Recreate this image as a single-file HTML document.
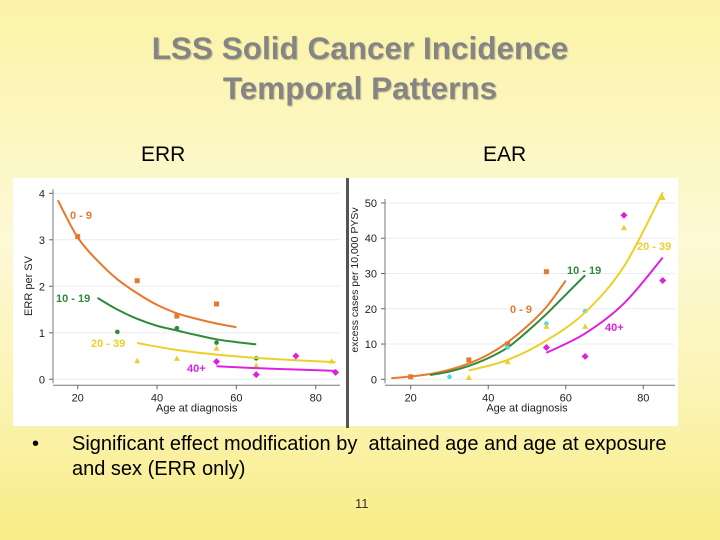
<!DOCTYPE html>
<html><head><meta charset="utf-8"><style>
body{margin:0;width:720px;height:540px;overflow:hidden;font-family:"Liberation Sans",sans-serif;
background:linear-gradient(180deg,#fbf3a6 0%,#fdf9d6 45%,#fbf3b0 75%,#f8ec86 100%);position:relative}
.t{position:absolute;left:0;width:720px;text-align:center;font-weight:bold;font-size:31.5px;color:#858585;text-shadow:1px 1px 1px #c8c090}
.lab{position:absolute;font-size:21px;color:#000}
.bul{position:absolute;left:32px;top:432px;font-size:20px;line-height:25px;color:#000}
</style></head><body>
<div class="t" style="top:30px">LSS Solid Cancer Incidence</div>
<div class="t" style="top:70px">Temporal Patterns</div>
<div class="lab" style="left:141px;top:143px">ERR</div>
<div class="lab" style="left:483px;top:143px">EAR</div>
<svg id="ch" width="720" height="540" style="position:absolute;left:0;top:0" font-family="Liberation Sans, sans-serif"></svg>
<div class="bul"><span style="display:inline-block;width:40px">•</span>Significant effect modification by&nbsp; attained age and age at exposure<br><span style="display:inline-block;width:40px"></span>and sex (ERR only)</div>
<div style="position:absolute;left:355px;top:496px;font-size:13px;color:#333">11</div>
<script>
// ERR data
const errCurve09=[[15,3.85],[20,3.05],[25,2.55],[30,2.15],[35,1.85],[40,1.6],[45,1.42],[50,1.3],[55,1.2],[60,1.12]];
const errCurve1019=[[25,1.75],[30,1.5],[35,1.3],[40,1.15],[45,1.05],[50,0.95],[55,0.86],[60,0.8],[65,0.75]];
const errCurve2039=[[35,0.78],[45,0.63],[55,0.53],[65,0.46],[75,0.41],[85,0.37]];
const errCurve40=[[55,0.28],[65,0.24],[75,0.21],[85,0.18]];
const errPts09=[[20,3.07],[35,2.12],[45,1.36],[55,1.62]];
const errPts1019=[[30,1.02],[45,1.1],[55,0.79],[65,0.45]];
const errPts2039=[[35,0.4],[45,0.45],[55,0.67],[65,0.3],[84,0.39]];
const errPts40=[[55,0.38],[65,0.1],[75,0.5],[85,0.15]];
const errYTicks=[0,1,2,3,4];
// EAR data
const earCurve09=[[15,0.3],[20,0.8],[25,1.5],[30,2.7],[35,4.5],[40,7],[45,10.5],[50,15],[55,20.5],[60,28]];
const earCurve1019=[[25,1.2],[30,2.2],[35,3.8],[40,6],[45,9],[50,13.5],[55,18.5],[60,24],[65,29.5]];
const earCurve2039=[[35,2.5],[45,5.5],[55,11],[65,19],[75,32],[85,53]];
const earCurve40=[[55,7.5],[65,13],[75,21.5],[85,34.5]];
const earPts09=[[20,0.7],[35,5.5],[45,10],[55,30.5]];
const earPts1019=[[30,0.7],[45,9],[55,15.8],[65,19.3]];
const earPts2039=[[35,0.5],[45,5],[55,15],[65,15],[75,43],[85,51.5]];
const earPts40=[[55,9],[65,6.5],[75,46.5],[85,28]];
const earYTicks=[0,10,20,30,40,50];
const xTicks=[20,40,60,80];

const svg=document.getElementById('ch');const NS='http://www.w3.org/2000/svg';
function mk(t,a,txt){const e=document.createElementNS(NS,t);for(const k in a)e.setAttribute(k,a[k]);if(txt!==undefined)e.textContent=txt;svg.appendChild(e);return e;}
const OR='#e8782a',GR='#2e8b3a',YE='#ecd02a',MA='#e020e0',CY='#40e0e0';
function smooth(pts){let d='M'+pts[0][0]+','+pts[0][1];
 for(let i=0;i<pts.length-1;i++){const p0=pts[i-1]||pts[i],p1=pts[i],p2=pts[i+1],p3=pts[i+2]||p2;
  d+=` C${p1[0]+(p2[0]-p0[0])/6},${p1[1]+(p2[1]-p0[1])/6} ${p2[0]-(p3[0]-p1[0])/6},${p2[1]-(p3[1]-p1[1])/6} ${p2[0]},${p2[1]}`;}
 return d;}
function panel(o){
 const X=v=>o.x0+(v-20)*o.px, Y=v=>o.y0-v*o.py;
 o.yTicks.forEach(t=>{mk('line',{x1:o.axL,x2:o.axR,y1:Y(t),y2:Y(t),stroke:'#e8eef0','stroke-width':1});
  let e=mk('text',{x:o.axL-8,y:Y(t)+4,'text-anchor':'end','font-size':11,fill:'#222'},t);
  
  mk('line',{x1:o.axL-4,x2:o.axL,y1:Y(t),y2:Y(t),stroke:'#666'});});
 mk('line',{x1:o.axL,x2:o.axL,y1:o.y0+4,y2:Y(o.yTicks[o.yTicks.length-1])-4,stroke:'#777'});
 mk('line',{x1:o.axL,x2:o.axR,y1:o.y0+6,y2:o.y0+6,stroke:'#777'});
 xTicks.forEach(t=>{mk('line',{x1:X(t),x2:X(t),y1:o.y0+6,y2:o.y0+10,stroke:'#666'});
  let e=mk('text',{x:X(t),y:o.y0+22,'text-anchor':'middle','font-size':11,fill:'#222'},t);
  });
 let xt=mk('text',{x:X(50),y:o.y0+32,'text-anchor':'middle','font-size':11,fill:'#222'},'Age at diagnosis');
 
 let yt=mk('text',{x:0,y:0,'text-anchor':'middle','font-size':o.ytSize,fill:'#222',transform:`translate(${o.ytX},${o.ytY}) rotate(-90)`},o.ytitle);
 
 o.series.forEach(s=>{
  const p=mk('path',{d:smooth(s.c.map(d=>[X(d[0]),Y(d[1])])),fill:'none',stroke:s.col,'stroke-width':2});
  
  s.p.forEach(d=>{const x=X(d[0]),y=Y(d[1]);let e;const c=s.pc||s.col;
   if(s.m==='sq')e=mk('rect',{x:x-2.5,y:y-2.5,width:5,height:5,fill:c});
   else if(s.m==='ci')e=mk('circle',{cx:x,cy:y,r:2.3,fill:c});
   else if(s.m==='tr')e=mk('polygon',{points:`${x},${y-3} ${x-3},${y+2.5} ${x+3},${y+2.5}`,fill:c});
   else e=mk('polygon',{points:`${x},${y-3.5} ${x+3.5},${y} ${x},${y+3.5} ${x-3.5},${y}`,fill:c});
   });
 });
 o.labels.forEach(l=>{let e=mk('text',{x:l[0],y:l[1],'font-size':11,'font-weight':'bold',fill:l[3]},l[2]);
  });
}
mk('rect',{x:13,y:178,width:665,height:248,fill:'#fff'});
mk('rect',{x:346,y:178,width:3,height:250,fill:'#555'});
panel({x0:77.7,px:3.967,y0:379.3,py:46.5,axL:53,axR:340,yTicks:errYTicks,ytitle:'ERR per SV',ytSize:11,ytX:32,ytY:286,
 series:[{n:'0-9',c:errCurve09,p:errPts09,col:OR,m:'sq'},{n:'10-19',c:errCurve1019,p:errPts1019,col:GR,m:'ci'},
 {n:'20-39',c:errCurve2039,p:errPts2039,col:YE,m:'tr'},{n:'40+',c:errCurve40,p:errPts40,col:MA,m:'di'}],
 labels:[[70,219,'0 - 9',OR],[56,302,'10 - 19',GR],[91,347,'20 - 39',YE],[187,372,'40+',MA]]});
panel({x0:410.7,px:3.877,y0:379.3,py:3.527,axL:385,axR:675,yTicks:earYTicks,ytitle:'excess cases per 10,000 PYSv',ytSize:10.5,ytX:358,ytY:280,
 series:[{n:'0-9',c:earCurve09,p:earPts09,col:OR,m:'sq'},{n:'10-19',c:earCurve1019,p:earPts1019,col:GR,pc:CY,m:'ci'},
 {n:'20-39',c:earCurve2039,p:earPts2039,col:YE,m:'tr'},{n:'40+',c:earCurve40,p:earPts40,col:MA,m:'di'}],
 labels:[[510,313,'0 - 9',OR],[567,274,'10 - 19',GR],[637,250,'20 - 39',YE],[605,331,'40+',MA]]});
</script>
</body></html>
